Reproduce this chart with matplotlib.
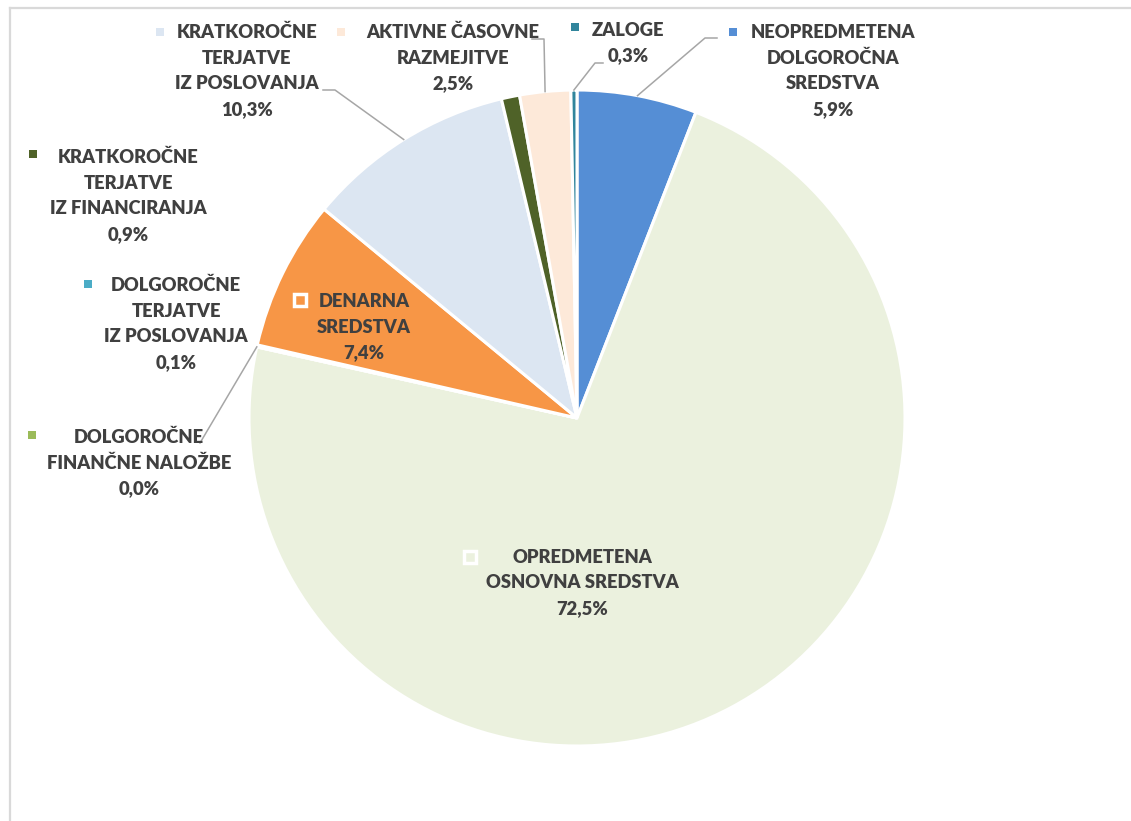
import numpy as np
import matplotlib.pyplot as plt
from matplotlib.lines import Line2D

# data
names = ["NEOPREDMETENA\nDOLGOROČNA\nSREDSTVA",
         "OPREDMETENA\nOSNOVNA SREDSTVA",
         "DOLGOROČNE\nFINANČNE NALOŽBE",
         "DOLGOROČNE\nTERJATVE\nIZ POSLOVANJA",
         "DENARNA\nSREDSTVA",
         "KRATKOROČNE\nTERJATVE\nIZ POSLOVANJA",
         "KRATKOROČNE\nTERJATVE\nIZ FINANCIRANJA",
         "AKTIVNE ČASOVNE\nRAZMEJITVE",
         "ZALOGE"]
shares = [5.9, 72.5, 0.0, 0.1, 7.4, 10.3, 0.9, 2.5, 0.3]
colors = ["#558ED5", "#EBF1DE", "#9BBB59", "#4BACC6", "#F79646",
          "#DCE6F2", "#4F6228", "#FDE9D9", "#31859C"]

# layout (image pixel coords, y from top)
W, H = 1131, 821
cx, cy, R = 577, 418, 328
label_pos = [(833, 71), (582, 583), (139, 463), (176, 324), (364, 327),
             (247, 71), (128, 196), (453, 58), (628, 43)]
key_pos = [(733, 32), (470, 557), (32, 435), (88, 284), (300, 300),
           (160, 32), (33, 154), (341, 32), (575, 27)]
inside = [1, 4]
# leader line points after the rim point
leaders = {0: [(705, 38), (717, 38)],
           2: [(200, 443)],
           5: [(335, 90), (323, 90)],
           7: [(544, 39), (532, 39)],
           8: [(595, 63), (603, 63)]}

TXT = "#404040"
plt.rcParams['font.family'] = ['Lato', 'DejaVu Sans']

def Y(y):
    return H - y

fig = plt.figure(figsize=(W / 100, H / 100), dpi=100)
ax = fig.add_axes([0, 0, 1, 1])

wedges, _ = ax.pie(shares, colors=colors, startangle=90, counterclock=False,
                   center=(cx, Y(cy)), radius=R,
                   wedgeprops=dict(edgecolor='white', linewidth=2.2))
ax.set_xlim(0, W)
ax.set_ylim(0, H)
ax.set_aspect('equal')
ax.axis('off')

for i, (nm, v) in enumerate(zip(names, shares)):
    txt = nm + "\n" + f"{v:.1f}".replace('.', ',') + "%"
    x, y = label_pos[i]
    ax.text(x, Y(y), txt, ha='center', va='center', multialignment='center',
            fontsize=13.2, fontweight='heavy', color=TXT, linespacing=1.6)
    kx, ky = key_pos[i]
    if i in inside:
        ax.plot(kx, Y(ky), marker='s', markersize=8, markerfacecolor=colors[i],
                markeredgecolor='white', markeredgewidth=2.5)
    else:
        ax.plot(kx, Y(ky), marker='s', markersize=6, markerfacecolor=colors[i],
                markeredgewidth=0)

for i, pts in leaders.items():
    w = wedges[i]
    th = np.deg2rad((w.theta1 + w.theta2) / 2)
    xs = [cx + R * np.cos(th)] + [p[0] for p in pts]
    ys = [Y(cy) + R * np.sin(th)] + [Y(p[1]) for p in pts]
    ax.plot(xs, ys, color='#A6A6A6', lw=1.1)

# chart frame
fig.add_artist(Line2D([10 / W, 1], [1 - 8 / H, 1 - 8 / H], transform=fig.transFigure,
                      color='#D9D9D9', lw=1.6))
fig.add_artist(Line2D([10 / W, 10 / W], [0, 1 - 8 / H], transform=fig.transFigure,
                      color='#D9D9D9', lw=1.6))

fig.savefig('out.png', dpi=100, facecolor='white')
